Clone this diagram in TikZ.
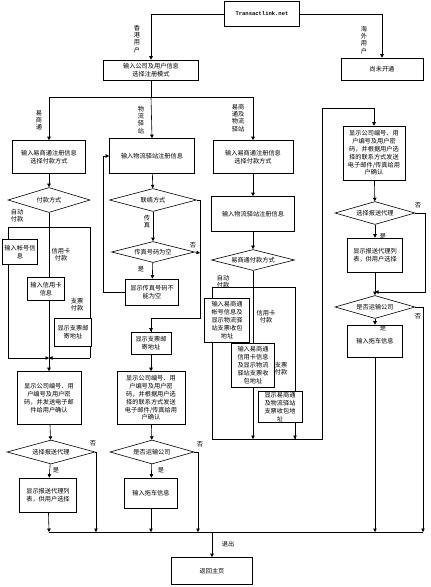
\documentclass[tikz,border=0pt]{standalone}
\usepackage{fontspec}
\newfontfamily\cjk{Noto Sans CJK SC}
\newfontfamily\monof{Liberation Mono}
\usetikzlibrary{shapes.geometric,arrows.meta}
\begin{document}
\begin{tikzpicture}[x=1pt,y=-1pt,line width=0.6pt,
  every node/.style={font=\cjk\fontsize{6.2}{7.8}\selectfont},
  box/.style={draw,fill=white,align=center,inner sep=1pt},
  dia/.style={draw,fill=white,diamond,aspect=3.5,inner sep=0pt,align=center},
  lab/.style={align=center,inner sep=0pt,font=\cjk\fontsize{6.2}{7.2}\selectfont},
  arr/.style={-{Triangle[length=3.5pt,width=3.5pt]}}]
\useasboundingbox (0,0) rectangle (431,587);
% top
\node[box,minimum width=75,minimum height=25,font=\monof\bfseries\fontsize{5.5}{6}\selectfont] (T) at (262,14) {Transactlink.net};
\node[box,minimum width=95,minimum height=20] (reg) at (151,70) {输入公司及用户信息\\选择注册模式};
\node[box,minimum width=82,minimum height=22] (notopen) at (382,69) {尚未开通};
\draw[arr] (T.west) -| (reg.north);
\draw[arr] (T.east) -| (notopen.north);
\node[lab] (l1) at (137,39) {香\\港\\用\\户};
\node[lab] (l2) at (364,40) {海\\外\\用\\户};
% left column nodes
\node[box,minimum width=73,minimum height=33] (A1) at (49,157) {输入易商通注册信息\\选择付款方式};
\node[dia,minimum width=82,minimum height=25] (D1) at (49,200) {付款方式};
\coordinate (L1) at (8,227); \coordinate (L2) at (90,227);
\coordinate (L3) at (8,358); \coordinate (L4) at (90,358);
\coordinate (L5) at (49,358);
\draw (L1) -- (L2); \draw (L1) -- (L3); \draw (L2) -- (L4);
\draw (D1.south) -- (L5);
\draw[arr] (L3) -- (L5); \draw[arr] (L4) -- (L5);
\node[box,minimum width=35,minimum height=25] (A2) at (20,252) {输入帐号信\\息};
\node[box,minimum width=37,minimum height=23] (A3) at (46,289) {输入信用卡\\信息};
\node[box,minimum width=37,minimum height=28] (A4) at (73,332) {显示支票邮\\寄地址};
\node[lab] (la1) at (17,216) {自动\\付款};
\node[lab] (la2) at (61,255) {信用卡\\付款};
\node[lab] (la3) at (77,305) {支票\\付款};
\node[box,minimum width=64,minimum height=53] (A5) at (49,398) {显示公司编号、用\\户编号及用户密\\码，并发送电子邮\\件给用户确认};
\node[dia,minimum width=88,minimum height=24] (D2) at (51,452) {选择报送代理};
\node[box,minimum width=57,minimum height=34] (A6) at (48,495) {显示报送代理列\\表，供用户选择};
\node[lab] (la4) at (56,470) {是};
\node[lab] (la5) at (93,443) {否};
% registration split
\coordinate (J0) at (151,97);
\draw (reg.south) -- (J0);
\draw[arr] (J0) -| (A1.north);
\node[box,minimum width=85,minimum height=35] (B1) at (152,156) {输入物流驿站注册信息};
\node[box,minimum width=80,minimum height=33] (E1) at (253,157) {输入易商通注册信息\\选择付款方式};
\draw[arr] (J0) -| (E1.north);
\draw[arr] (J0) -- (B1.north);
\node[lab] (lb1) at (39,120) {易\\商\\通};
\node[lab] (lb2) at (141,120) {物\\流\\驿\\站};
\node[lab] (lb3) at (238,118) {易商\\通及\\物流\\驿站};
% left column connectors
\draw[arr] (A1) -- (D1);
\draw[arr] (L5) -- (A5.north);
\draw[arr] (A5) -- (D2);
\draw[arr] (D2) -- (A6);
% middle column
\node[dia,minimum width=87,minimum height=23] (BD1) at (153,200) {联络方式};
\node[dia,minimum width=83,minimum height=21] (BD2) at (153,252) {传真号码为空};
\node[box,minimum width=53,minimum height=26] (B2) at (152,292) {显示传真号码不\\能为空};
\node[box,minimum width=40,minimum height=22] (B3) at (151,343) {显示支票邮\\寄地址};
\node[box,minimum width=68,minimum height=53] (B4) at (151,398) {显示公司编号、用\\户编号及用户密\\码，并根据用户选\\择的联系方式发送\\电子邮件/传真给用\\户确认};
\node[dia,minimum width=84,minimum height=24] (BD3) at (152,452) {是否运输公司};
\node[box,minimum width=53,minimum height=30] (B5) at (151,493) {输入拖车信息};
\draw[arr] (B1) -- (BD1);
\draw[arr] (BD1) -- (BD2);
\draw[arr] (BD2) -- (B2);
\coordinate (M1) at (200,253); \coordinate (M2) at (200,318); \coordinate (M3) at (103,292);
\draw (BD1.east) -| (M2) -| (B3.north);
\draw[arr] (M2) -| (B3.north);
\draw[arr] (BD2.east) -- (M1);
\draw[arr] (B2.west) -- (M3) |- (B1.west);
\draw[arr] (B3) -- (B4);
\draw[arr] (B4) -- (BD3);
\draw[arr] (BD3) -- (B5);
\node[lab] (lm1) at (147,222) {传\\真};
\node[lab] (lm2) at (141,269) {是};
\node[lab] (lm3) at (193,245) {否};
\node[lab] (lm4) at (161,470) {是};
\node[lab] (lm5) at (200,444) {否};
% third column
\node[box,minimum width=83,minimum height=35] (E2) at (253,214) {输入物流驿站注册信息};
\node[dia,minimum width=83,minimum height=21] (ED) at (253,260) {易商通付款方式};
\coordinate (K1) at (212,287); \coordinate (K2) at (295,287);
\coordinate (K3) at (212,439); \coordinate (K4) at (295,439);
\coordinate (K5) at (253,439); \coordinate (K6) at (322,439);
\coordinate (K7) at (322,108);
\draw (K1) -- (K2); \draw (K1) -- (K3); \draw (K2) -- (K4);
\draw (K3) -- (K6) -- (K7);
\draw[arr] (ED.south) -- (K5);
\draw[arr] (K2) -- (K4);
\draw[arr] (E1) -- (E2);
\draw[arr] (E2) -- (ED);
\node[box,minimum width=45,minimum height=44] (E3) at (227,320) {输入易商通\\帐号信息及\\显示物流驿\\站支票收包\\地址};
\node[box,minimum width=43,minimum height=44] (E4) at (253,365) {输入易商通\\信用卡信息\\及显示物流\\驿站支票收\\包地址};
\node[box,minimum width=44,minimum height=31] (E5) at (280,407) {显示易商通\\及物流驿站\\支票收包地\\址};
\node[lab] (le1) at (223,282) {自动\\付款};
\node[lab] (le2) at (266,317) {信用卡\\付款};
\node[lab] (le3) at (281,369) {支票\\付款};
% right column
\node[box,minimum width=62,minimum height=54] (C1) at (374,153) {显示公司编号、用\\户编号及用户密\\码，并根据用户选\\择的联系方式发送\\电子邮件/传真给用\\户确认};
\node[dia,minimum width=80,minimum height=23] (CD1) at (375,213) {选择报送代理};
\node[box,minimum width=55,minimum height=34] (C2) at (375,255) {显示报送代理列\\表，供用户选择};
\node[dia,minimum width=80,minimum height=23] (CD2) at (375,307) {是否运输公司};
\node[box,minimum width=55,minimum height=32] (C3) at (375,341) {输入拖车信息};
\draw[arr] (K7) -| (C1.north);
\draw[arr] (C1) -- (CD1);
\draw[arr] (CD1) -- (C2);
\draw[arr] (C2) -- (CD2);
\draw[arr] (CD2) -- (C3);
\coordinate (N1) at (425,292); \coordinate (N2) at (375,292);
\draw[arr] (CD1.east) -| (N1) -- (N2);
\node[lab] (lr1) at (383,236) {是};
\node[lab] (lr2) at (418,205) {否};
\node[lab] (lr3) at (383,328) {是};
\node[lab] (lr4) at (418,316) {否};
% bottom
\node[box,minimum width=81,minimum height=27] (R) at (212,571) {返回主页};
\coordinate (Z1) at (49,532); \coordinate (Z2) at (96,532);
\coordinate (Z3) at (151,532); \coordinate (Z4) at (198,532);
\coordinate (Z5) at (375,532); \coordinate (Z6) at (423,532);
\coordinate (Z0) at (212,532);
\draw (Z1) -- (Z6);
\draw[arr] (A6) -- (Z1);
\draw[arr] (D2.east) -| (Z2);
\draw[arr] (B5) -- (Z3);
\draw[arr] (BD3.east) -| (Z4);
\draw[arr] (C3) -- (Z5);
\draw[arr] (CD2.east) -| (Z6);
\draw[arr] (Z0) -- (R);
\node[lab] (lz) at (228,544) {退出};
\end{tikzpicture}
\end{document}
